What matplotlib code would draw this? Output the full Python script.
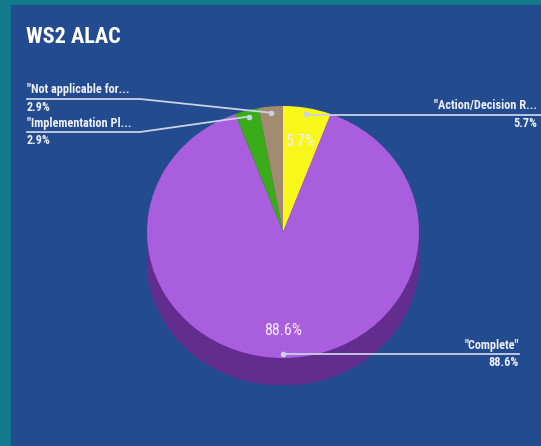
import numpy as np
import matplotlib.pyplot as plt
from matplotlib.patches import Ellipse, Rectangle

# data
labels = ['"Action/Decision R...', '"Complete"', '"Implementation Pl...', '"Not applicable for...']
counts = [2, 31, 1, 1]
colors = ['#f7f71c', '#a95ede', '#3aab19', '#a38b72']
title = 'WS2 ALAC'

W, H = 541, 446
fig = plt.figure(figsize=(W / 100, H / 100), dpi=100)
fig.patch.set_facecolor('#127a8b')

FONT = ['Roboto Condensed', 'Liberation Sans Narrow', 'Roboto', 'DejaVu Sans']

# background panel (pixel coords, y down)
bg = fig.add_axes([0, 0, 1, 1])
bg.set_xlim(0, W)
bg.set_ylim(H, 0)
bg.axis('off')
bg.set_zorder(0)
bg.add_patch(Rectangle((11, 5), W - 11, H - 5, color='#234b8f'))

# overlay for labels and leader lines
over = fig.add_axes([0, 0, 1, 1])
over.set_xlim(0, W)
over.set_ylim(H, 0)
over.axis('off')
over.set_zorder(2)
over.text(26, 37, title, color='white', fontsize=16, fontweight='bold',
          family=FONT, fontstretch='condensed', va='center', ha='left')

# pie axes: ellipse 272x252 px plus 27 px depth
rx, ry, depth = 136, 126, 27
cx, cy = 283, 232
d = depth / ry
pie_ax = fig.add_axes([(cx - rx) / W, (H - (cy + ry + depth)) / H,
                       2 * rx / W, (2 * ry + depth) / H])
pie_ax.set_zorder(1)

# side of the cylinder
pie_ax.add_patch(Ellipse((0, -d), 2, 2, color='#632d90', zorder=0))
pie_ax.add_patch(Rectangle((-1, -d), 2, d, color='#632d90', zorder=0))
wedges, _ = pie_ax.pie(counts, colors=colors, startangle=90, counterclock=False,
                       radius=1, wedgeprops=dict(linewidth=0))
pie_ax.set_aspect('auto')
pie_ax.set_xlim(-1, 1)
pie_ax.set_ylim(-1 - d, 1)
pie_ax.axis('off')

total = sum(counts)
pcts = [100 * c / total for c in counts]


def to_px(x, y):
    dx, dy = pie_ax.transData.transform((x, y))
    return dx, H - dy


# leader layout: (label side, underline y, text anchor x)
layout = [
    ('right', 115, 537),
    ('right', 354, 519),
    ('left', 132, 27),
    ('left', 99, 27),
]

line_c = '#c9d2e6'
text_c = '#eef0f6'
for w, lab, p, (side, ly, tx) in zip(wedges, labels, pcts, layout):
    mid = np.deg2rad((w.theta1 + w.theta2) / 2)
    r = 0.95 if p < 50 else 0.97
    px, py = to_px(r * np.cos(mid), r * np.sin(mid))
    over.plot([px], [py], 'o', ms=3, color=line_c, zorder=5)
    ha = 'right' if side == 'right' else 'left'
    if side == 'right':
        over.plot([px, W if p < 50 else tx], [ly, ly], color=line_c, lw=1.3, zorder=4)
    else:
        over.plot([tx, 140, px], [ly, ly, py], color=line_c, lw=1.3, zorder=4)
    over.text(tx, ly - 2.5, lab, ha=ha, va='bottom', color=text_c, fontsize=8.8,
              fontweight='bold', family=FONT, fontstretch='condensed')
    over.text(tx, ly + 2, f'{p:.1f}%', ha=ha, va='top', color=text_c, fontsize=8.8,
              fontweight='bold', family=FONT, fontstretch='condensed')

# in-slice percentages for the bigger slices
for w, p in zip(wedges, pcts):
    if p < 5:
        continue
    mid = np.deg2rad((w.theta1 + w.theta2) / 2)
    r = 0.73 if p < 50 else 0.78
    px, py = to_px(r * np.cos(mid), r * np.sin(mid))
    over.text(px, py, f'{p:.1f}%', ha='center', va='center', color='#f4ecfb',
              fontsize=11.5, family=FONT, fontstretch='condensed')

fig.savefig('out.png', dpi=100, facecolor=fig.get_facecolor())
